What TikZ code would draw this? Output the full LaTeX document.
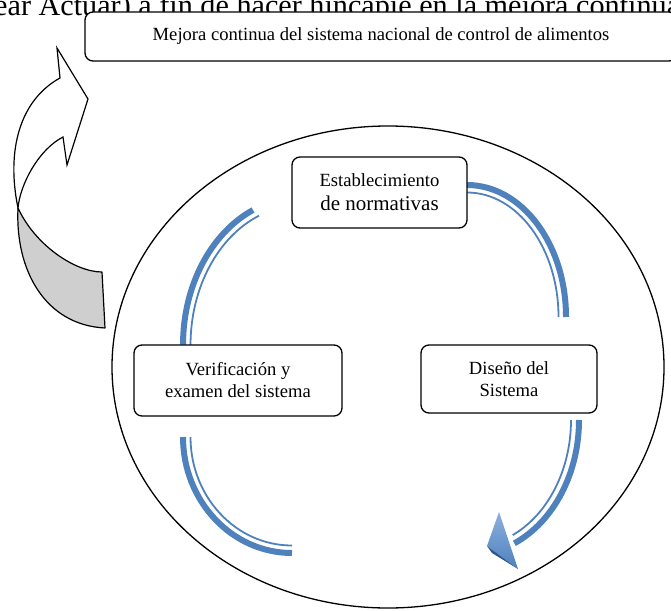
\documentclass[tikz,border=0pt]{standalone}
\usepackage{fontspec}
\setmainfont{Liberation Serif}
\usepackage{xcolor}
\usepackage{tikz}
\usetikzlibrary{calc, positioning, shapes.geometric}

\definecolor{cycleblue}{RGB}{79,129,189}
\definecolor{cyclelight}{RGB}{140,176,222}
\definecolor{cycledark}{RGB}{45,85,140}
\definecolor{arrowgray}{RGB}{207,207,207}

\tikzset{
	stagebox/.style={draw, line width=1.3pt, rounded corners=8pt, fill=white, align=center, inner sep=2pt},
	bluethick/.style={cycleblue, line width=6pt},
	bluethin/.style={cycleblue, line width=1.8pt},
	outline/.style={line width=1.2pt, line join=round}
}

\begin{document}
\begin{tikzpicture}[x=1pt, y=-1pt]
\clip (0,0) rectangle (671,610);

% Cut-off line of text at the top
\node[anchor=base west, inner sep=0pt, font=\fontsize{30.2}{34}\selectfont] (heading) at (-6,16) {ear Actuar) a fin de hacer hincapié en la mejora continua};

% Outer ellipse
\draw[line width=1.3pt] (388,367) ellipse [x radius=276, y radius=241];

% Blue cycle arcs (thick outside, thin inside)
\draw[bluethick] (467,185) arc[start angle=270, end angle=360, x radius=99, y radius=132];
\draw[bluethin] (467,192.5) arc[start angle=270, end angle=360, x radius=91.5, y radius=124.5];

\draw[bluethick] (579,420) arc[start angle=0, end angle=66, x radius=109, y radius=135];
\draw[bluethin] (571,420) arc[start angle=0, end angle=65, x radius=101, y radius=127];

\draw[bluethick] (183,437) arc[start angle=180, end angle=90, x radius=109, y radius=116];
\draw[bluethin] (190.5,437) arc[start angle=180, end angle=90, x radius=101.5, y radius=108.5];

\draw[bluethick] (253,210) arc[start angle=246.3, end angle=180, x radius=117, y radius=147];
\draw[bluethin] (259,215.7) arc[start angle=248, end angle=180, x radius=109.5, y radius=139.5];

% Arrow head at the end of the cycle
\shade[top color=cyclelight, bottom color=cycleblue] (499,512) -- (487,546) -- (518,569) -- cycle;
\fill[cycledark] (487,546) -- (492,553) -- (518,569) -- cycle;

% Stages
\node[stagebox, minimum width=592pt, minimum height=49pt, font=\fontsize{18.6}{21}\selectfont] (mejora) at (381,36.5) {Mejora continua del sistema nacional de control de alimentos};
\node[stagebox, minimum width=175pt, minimum height=71pt, font=\fontsize{18.6}{24}\selectfont] (normas) at (379.5,192.5) {Establecimiento\\{\fontsize{21}{24}\selectfont de normativas}};
\node[stagebox, minimum width=176pt, minimum height=68pt, font=\fontsize{18.6}{22}\selectfont] (diseno) at (509,379) {Diseño del\\Sistema};
\node[stagebox, minimum width=208pt, minimum height=71pt, font=\fontsize{18.6}{22}\selectfont] (verif) at (238,380.5) {Verificación y\\examen del sistema};

% Curved arrow on the left
\draw[outline, fill=arrowgray] (18,208) .. controls (15,270) and (45,325) .. (105,328) -- (102,272) .. controls (75,272) and (35,245) .. (18,208) -- cycle;
\draw[outline, fill=white, line join=miter] (18,208) .. controls (6,150) and (20,100) .. (60,78) -- (57,48) -- (88,99) -- (67,165) -- (63,137) .. controls (38,150) and (20,185) .. (18,208) -- cycle;

\end{tikzpicture}
\end{document}
